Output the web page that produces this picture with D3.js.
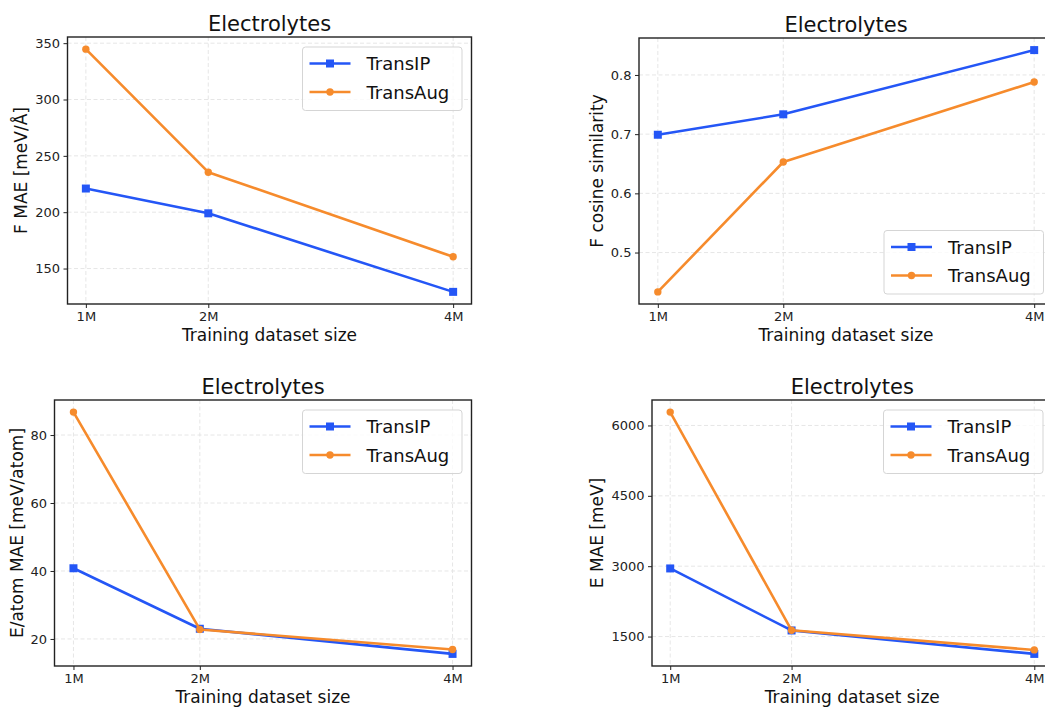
<!DOCTYPE html>
<html>
<head>
<meta charset="utf-8">
<script src="https://cdn.jsdelivr.net/npm/d3@7"></script>
<style>
  body { margin: 0; background: #fff; }
  svg { display: block; font-family: "DejaVu Sans", sans-serif; }
</style>
</head>
<body>
<div id="chart"></div>
<script>
// data
var sizeLabels = ["1M", "2M", "4M"];
var sizeValues = [1, 2, 4];
var seriesNames = ["TransIP", "TransAug"];

var fMaeTransIP = [221, 199, 129.3];
var fMaeTransAug = [344.7, 235.5, 160.4];
var fCosTransIP = [0.699, 0.7335, 0.842];
var fCosTransAug = [0.4335, 0.653, 0.788];
var eAtomTransIP = [40.8, 23.0, 15.6];
var eAtomTransAug = [86.75, 22.8, 16.9];
var eMaeTransIP = [2952, 1630, 1130];
var eMaeTransAug = [6285, 1634, 1215];

var fMaeTicks = [150, 200, 250, 300, 350];
var fCosTicks = [0.5, 0.6, 0.7, 0.8];
var eAtomTicks = [20, 40, 60, 80];
var eMaeTicks = [1500, 3000, 4500, 6000];

var width = 1045, height = 709;
var colors = ["#2456f6", "#f68b2c"];

var panels = [
  { box: [67.5, 37, 471.5, 304], ylabel: "F MAE [meV/Å]", ylabelX: 21, ticks: fMaeTicks, fmt: d3.format("d"),
    series: [fMaeTransIP, fMaeTransAug], legend: "upper" },
  { box: [639, 38, 1053, 304], ylabel: "F cosine similarity", ylabelX: 597, ticks: fCosTicks, fmt: d3.format(".1f"),
    series: [fCosTransIP, fCosTransAug], legend: "lower" },
  { box: [54.5, 400, 471.5, 666], ylabel: "E/atom MAE [meV/atom]", ylabelX: 17, ticks: eAtomTicks, fmt: d3.format("d"),
    series: [eAtomTransIP, eAtomTransAug], legend: "upper" },
  { box: [652, 400, 1052.5, 666], ylabel: "E MAE [meV]", ylabelX: 597, ticks: eMaeTicks, fmt: d3.format("d"),
    series: [eMaeTransIP, eMaeTransAug], legend: "upper" }
];

var svg = d3.select("#chart").append("svg")
  .attr("width", width)
  .attr("height", height);

function marker(g, k, cx, cy) {
  if (k === 0) {
    g.append("rect")
      .attr("x", cx - 4).attr("y", cy - 4)
      .attr("width", 8).attr("height", 8)
      .attr("fill", colors[k]);
  } else {
    g.append("circle")
      .attr("cx", cx).attr("cy", cy).attr("r", 3.7)
      .attr("fill", colors[k]);
  }
}

panels.forEach(function(p) {
  var x0 = p.box[0], y0 = p.box[1], x1 = p.box[2], y1 = p.box[3];
  var g = svg.append("g");

  // matplotlib style 5% margins
  var xr = d3.extent(sizeValues), xpad = (xr[1] - xr[0]) * 0.05;
  var all = d3.merge(p.series);
  var yr = d3.extent(all), ypad = (yr[1] - yr[0]) * 0.05;

  var x = d3.scaleLinear().domain([xr[0] - xpad, xr[1] + xpad]).range([x0, x1]);
  var y = d3.scaleLinear().domain([yr[0] - ypad, yr[1] + ypad]).range([y1, y0]);

  // grid
  g.append("g").selectAll("line.gy")
    .data(p.ticks).enter().append("line")
    .attr("x1", x0).attr("x2", x1)
    .attr("y1", function(d) { return y(d); })
    .attr("y2", function(d) { return y(d); })
    .attr("stroke", "#e3e3e3").attr("stroke-width", 0.9)
    .attr("stroke-dasharray", "4,2.5");
  g.append("g").selectAll("line.gx")
    .data(sizeValues).enter().append("line")
    .attr("y1", y0).attr("y2", y1)
    .attr("x1", function(d) { return x(d); })
    .attr("x2", function(d) { return x(d); })
    .attr("stroke", "#e3e3e3").attr("stroke-width", 0.9)
    .attr("stroke-dasharray", "4,2.5");

  // axes
  var xAxis = d3.axisBottom(x).tickValues(sizeValues)
    .tickFormat(function(d, i) { return sizeLabels[i]; })
    .tickSize(4).tickPadding(3.5);
  var yAxis = d3.axisLeft(y).tickValues(p.ticks).tickFormat(p.fmt)
    .tickSize(4).tickPadding(3.5);

  var gx = g.append("g").attr("transform", "translate(0," + y1 + ")").call(xAxis);
  var gy = g.append("g").attr("transform", "translate(" + x0 + ",0)").call(yAxis);
  [gx, gy].forEach(function(a) {
    a.select(".domain").remove();
    a.selectAll(".tick line").attr("stroke", "#222").attr("stroke-width", 1);
    a.selectAll(".tick text").attr("fill", "#222").style("font-size", "13px")
      .style("font-family", "DejaVu Sans");
  });

  // frame
  g.append("rect")
    .attr("x", x0).attr("y", y0)
    .attr("width", x1 - x0).attr("height", y1 - y0)
    .attr("fill", "none").attr("stroke", "#222").attr("stroke-width", 1.4);

  // lines + markers
  var line = d3.line()
    .x(function(d, i) { return x(sizeValues[i]); })
    .y(function(d) { return y(d); });
  p.series.forEach(function(s, k) {
    var sg = g.append("g");
    sg.append("path").datum(s)
      .attr("d", line)
      .attr("fill", "none")
      .attr("stroke", colors[k])
      .attr("stroke-width", 2.6)
      .attr("stroke-linejoin", "round");
    s.forEach(function(v, i) { marker(sg, k, x(sizeValues[i]), y(v)); });
  });

  // title and labels
  g.append("text")
    .attr("x", (x0 + Math.min(x1, width + 100)) / 2 - (x1 > width ? 0 : 0))
    .attr("y", y0 - 6)
    .attr("text-anchor", "middle")
    .style("font-size", "21px")
    .attr("fill", "#111")
    .text("Electrolytes");
  g.append("text")
    .attr("x", (x0 + x1) / 2)
    .attr("y", y1 + 37)
    .attr("text-anchor", "middle")
    .style("font-size", "17px")
    .attr("fill", "#111")
    .text("Training dataset size");
  g.append("text")
    .attr("transform", "translate(" + (p.ylabelX + 6) + "," + ((y0 + y1) / 2) + ")rotate(-90)")
    .attr("text-anchor", "middle")
    .style("font-size", "17px")
    .attr("fill", "#111")
    .text(p.ylabel);

  // legend
  var lw = 159.5, lh = 63.5;
  var lx = x1 - 9.5 - lw;
  var ly = p.legend === "upper" ? y0 + 10 : y1 - 10 - lh;
  var lg = g.append("g").attr("transform", "translate(" + lx + "," + ly + ")");
  lg.append("rect")
    .attr("width", lw).attr("height", lh)
    .attr("rx", 3)
    .attr("fill", "#fff").attr("fill-opacity", 0.8)
    .attr("stroke", "#d5d5d5").attr("stroke-width", 1);
  seriesNames.forEach(function(name, k) {
    var ry = 16.5 + k * 28.5;
    lg.append("line")
      .attr("x1", 7).attr("x2", 48)
      .attr("y1", ry).attr("y2", ry)
      .attr("stroke", colors[k]).attr("stroke-width", 2.6);
    marker(lg, k, 27.5, ry);
    lg.append("text")
      .attr("x", 64).attr("y", ry + 6.5)
      .style("font-size", "18px")
      .attr("fill", "#111")
      .text(name);
  });
});
</script>
</body>
</html>
